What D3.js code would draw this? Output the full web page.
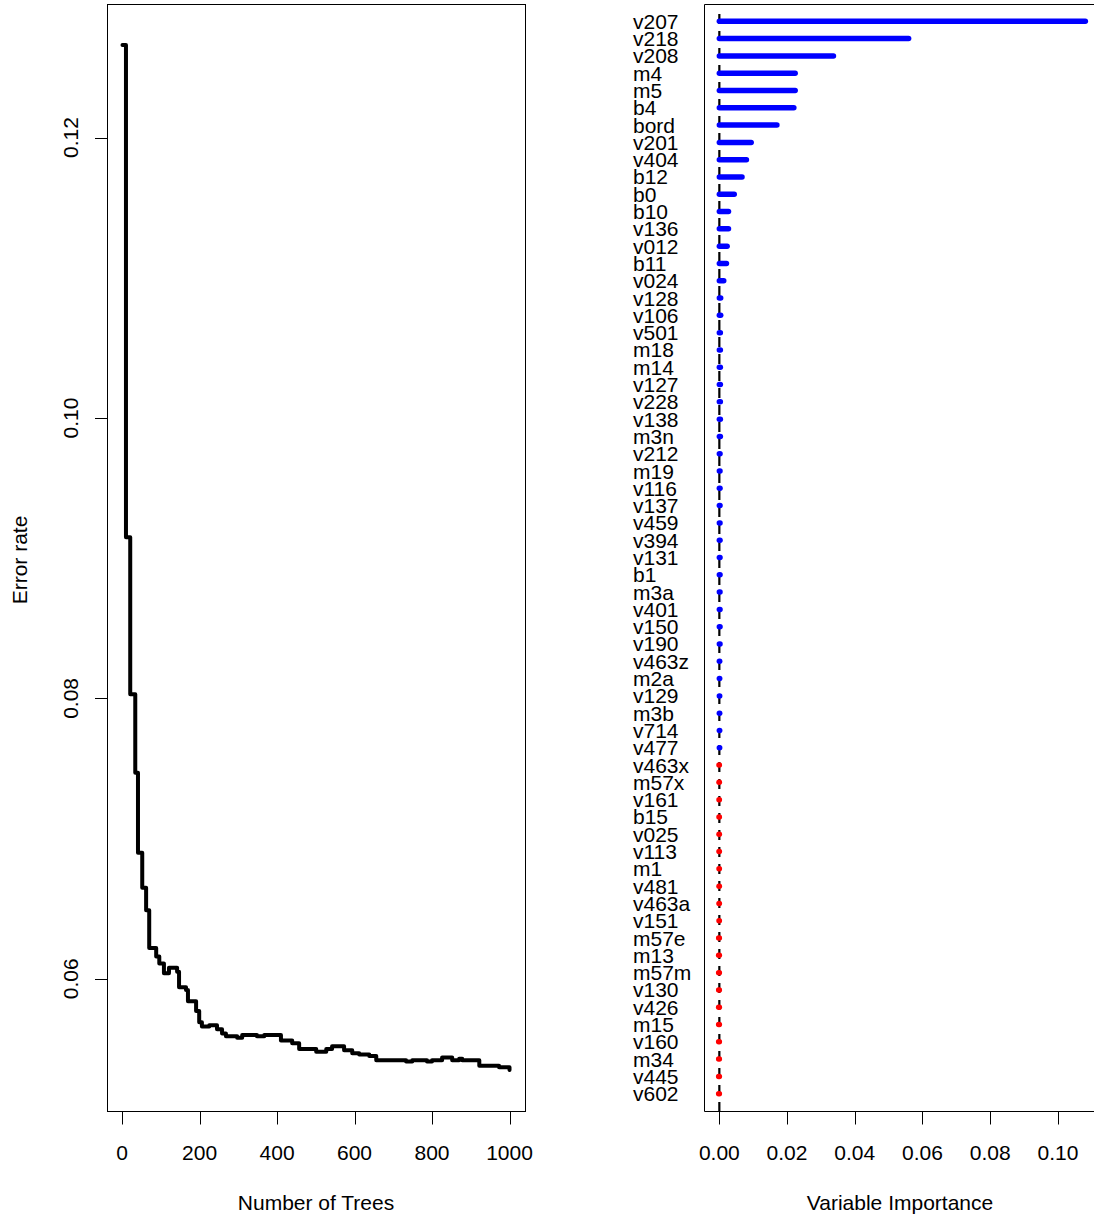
<!DOCTYPE html>
<html lang="en">
<head>
<meta charset="UTF-8">
<script src="https://d3js.org/d3.v7.min.js"></script>
<title>Error rate and variable importance</title>
<style>
  body { margin: 0; background: #fff; }
  text { font-family: "Liberation Sans", Arial, sans-serif; font-size: 21px; fill: #000; }
</style>
</head>
<body>
<script>
// error rate by number of trees (step changes)
var trees = [1, 10, 21, 34, 41, 52, 62, 70, 88, 96,
             108, 121, 142, 147, 165, 170, 191, 199, 206, 225,
             245, 258, 268, 297, 310, 348, 367, 410, 439, 457,
             501, 527, 542, 573, 594, 612, 638, 656, 689, 733,
             749, 787, 800, 826, 852, 870, 878, 922, 973, 1000];
var errRate = [0.1266, 0.0915, 0.0803, 0.0747, 0.0690, 0.0665, 0.0649, 0.0622, 0.0616, 0.0611,
               0.0604, 0.0608, 0.0605, 0.0594, 0.0592, 0.0584, 0.0577, 0.0569, 0.0566, 0.0567,
               0.0564, 0.0561, 0.0559, 0.0558, 0.0560, 0.0559, 0.0560, 0.0556, 0.0554, 0.0550,
               0.0548, 0.0550, 0.0552, 0.0549, 0.0547, 0.0546, 0.0545, 0.0542, 0.0542, 0.0541,
               0.0542, 0.0541, 0.0542, 0.0544, 0.0542, 0.0543, 0.0542, 0.0538, 0.0537, 0.0535];
var treeTicks = [0, 200, 400, 600, 800, 1000];
var errTicks = [0.06, 0.08, 0.10, 0.12];

// variable importance
var varNames = ["v207","v218","v208","m4","m5","b4","bord","v201","v404","b12",
                "b0","b10","v136","v012","b11","v024","v128","v106","v501","m18",
                "m14","v127","v228","v138","m3n","v212","m19","v116","v137","v459",
                "v394","v131","b1","m3a","v401","v150","v190","v463z","m2a","v129",
                "m3b","v714","v477","v463x","m57x","v161","b15","v025","v113","m1",
                "v481","v463a","v151","m57e","m13","m57m","v130","v426","m15","v160",
                "m34","v445","v602"];
var vimp = [0.1081, 0.0559, 0.0337, 0.0224, 0.0224, 0.0220, 0.0170, 0.0094, 0.0080, 0.0067,
            0.0044, 0.0027, 0.0027, 0.0023, 0.0021, 0.0013, 0.0004, 0.0004, 0.0003, 0.0003,
            0.0003, 0.0003, 0.0003, 0.0003, 0.0003, 0.0002, 0.0002, 0.0002, 0.0002, 0.0002,
            0.0002, 0.0002, 0.0002, 0.0002, 0.0002, 0.0002, 0.0002, 0.0001, 0.0001, 0.0001,
            0.0001, 0.0001, 0.0001, -0.0001, -0.0001, -0.0001, -0.0001, -0.0001, -0.0001, -0.0001,
            -0.0001, -0.0001, -0.0001, -0.0002, -0.0002, -0.0002, -0.0002, -0.0002, -0.0002, -0.0002,
            -0.0002, -0.0002, -0.0002];
var vimpTicks = [0, 0.02, 0.04, 0.06, 0.08, 0.10];

var W = 1094, H = 1218;
var svg = d3.select("body").append("svg").attr("width", W).attr("height", H);

// pad an extent by 4% like R does
function pad(ext) {
    var d = (ext[1] - ext[0]) * 0.04;
    return [ext[0] - d, ext[1] + d];
}

var plotTop = 4, plotBottom = 1111;

// ---------- left panel: error rate ----------
var xL = d3.scaleLinear().domain(pad(d3.extent(trees))).range([107, 525]);
var yL = d3.scaleLinear().domain(pad(d3.extent(errRate))).range([plotBottom, plotTop]);

var pts = trees.map(function(t, i) { return [t, errRate[i]]; });
var line = d3.line().x(function(d) { return xL(d[0]); }).y(function(d) { return yL(d[1]); })
             .curve(d3.curveStepAfter);

svg.append("path").datum(pts).attr("d", line)
   .attr("fill", "none").attr("stroke", "#000").attr("stroke-width", 4)
   .attr("stroke-linejoin", "round").attr("stroke-linecap", "round");

svg.append("rect").attr("x", 107.5).attr("y", plotTop + 0.5).attr("width", 418).attr("height", plotBottom - plotTop)
   .attr("fill", "none").attr("stroke", "#000").attr("stroke-width", 1);

svg.selectAll(".xtickL").data(treeTicks).enter().append("line")
   .attr("x1", function(d) { return Math.round(xL(d)) + 0.5; })
   .attr("x2", function(d) { return Math.round(xL(d)) + 0.5; })
   .attr("y1", plotBottom + 0.5).attr("y2", plotBottom + 13.5).attr("stroke", "#000");
svg.selectAll(".xlabL").data(treeTicks).enter().append("text")
   .attr("x", function(d) { return xL(d); }).attr("y", 1160)
   .attr("text-anchor", "middle").text(function(d) { return d; });

svg.selectAll(".ytickL").data(errTicks).enter().append("line")
   .attr("x1", 95).attr("x2", 107.5)
   .attr("y1", function(d) { return Math.round(yL(d)) + 0.5; })
   .attr("y2", function(d) { return Math.round(yL(d)) + 0.5; }).attr("stroke", "#000");
svg.selectAll(".ylabL").data(errTicks).enter().append("text")
   .attr("transform", function(d) { return "translate(78," + yL(d) + ") rotate(-90)"; })
   .attr("text-anchor", "middle").text(function(d) { return d3.format(".2f")(d); });

svg.append("text").attr("x", 316).attr("y", 1210).attr("text-anchor", "middle").text("Number of Trees");
svg.append("text").attr("transform", "translate(27,560) rotate(-90)")
   .attr("text-anchor", "middle").text("Error rate");

// ---------- right panel: variable importance ----------
var xR = d3.scaleLinear().domain(pad(d3.extent(vimp))).range([704, 1100]);
var yR = d3.scaleLinear().domain([0, 64]).range([plotTop, plotBottom]);

// dashed zero line under the bars
svg.append("line").attr("x1", xR(0)).attr("x2", xR(0)).attr("y1", plotTop + 10).attr("y2", plotBottom)
   .attr("stroke", "#000").attr("stroke-width", 2.2).attr("stroke-dasharray", "10,7");

svg.selectAll(".bar").data(vimp).enter().append("line")
   .attr("x1", xR(0)).attr("x2", function(d) { return xR(d); })
   .attr("y1", function(d, i) { return yR(i + 1); })
   .attr("y2", function(d, i) { return yR(i + 1); })
   .attr("stroke", function(d) { return d > 0 ? "#0000ff" : "#ff0000"; })
   .attr("stroke-width", 5.5).attr("stroke-linecap", "round");

svg.selectAll(".name").data(varNames).enter().append("text")
   .attr("x", 633).attr("y", function(d, i) { return yR(i + 1) + 7.5; })
   .text(function(d) { return d; });

svg.append("path")
   .attr("d", "M" + (W + 10) + "," + (plotTop + 0.5) + "H704.5V" + (plotBottom + 0.5) + "H" + (W + 10))
   .attr("fill", "none").attr("stroke", "#000").attr("stroke-width", 1);

svg.selectAll(".xtickR").data(vimpTicks).enter().append("line")
   .attr("x1", function(d) { return Math.round(xR(d)) + 0.5; })
   .attr("x2", function(d) { return Math.round(xR(d)) + 0.5; })
   .attr("y1", plotBottom + 0.5).attr("y2", plotBottom + 13.5).attr("stroke", "#000");
svg.selectAll(".xlabR").data(vimpTicks).enter().append("text")
   .attr("x", function(d) { return xR(d); }).attr("y", 1160)
   .attr("text-anchor", "middle").text(function(d) { return d3.format(".2f")(d); });

svg.append("text").attr("x", 900).attr("y", 1210).attr("text-anchor", "middle").text("Variable Importance");
</script>
</body>
</html>
